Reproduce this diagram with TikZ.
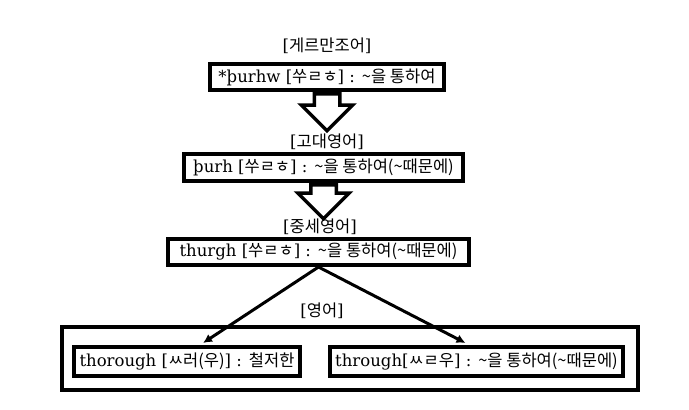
\documentclass[tikz,border=0pt]{standalone}
\usepackage{fontspec}
\setmainfont{DejaVu Serif}
\newfontfamily\krfont{Noto Sans CJK KR}
\newcommand\kr[1]{{\krfont #1}}
\usetikzlibrary{shapes.arrows,arrows.meta,backgrounds}
\begin{document}
\begin{tikzpicture}[x=1pt,y=-1pt,
  every node/.style={font=\fontsize{16.5}{18}\selectfont},
  box/.style={draw, line width=4pt, fill=white, inner sep=1pt},
  lbl/.style={inner sep=1pt},
  blockarrow/.style={single arrow, draw, fill=white, line width=3.5pt,
    inner xsep=0pt, inner ysep=11pt, single arrow head extend=13pt,
    minimum height=37pt, rotate=-90, anchor=tail},
  link/.style={line width=3pt, -{Latex[length=9pt,width=9pt]}}]
  \useasboundingbox (0,0) rectangle (689,410);
  % Germanic
  \node[lbl] (l1) at (327,46) {[\kr{게르만조어}]};
  \node[box, minimum width=234pt, minimum height=26pt] (g) at (327,77)
    {*þurhw [\kr{쑤ㄹㅎ}] : \kr{\textasciitilde 을 통하여}};
  % Old English
  \node[lbl] (l2) at (327,142) {[\kr{고대영어}]};
  \node[box, minimum width=279pt, minimum height=27pt] (o) at (323.5,167.5)
    {þurh [\kr{쑤ㄹㅎ}] : \kr{\textasciitilde 을 통하여(\textasciitilde 때문에)}};
  % Middle English
  \node[lbl] (l3) at (320,227) {[\kr{중세영어}]};
  \node[box, minimum width=301pt, minimum height=26pt] (m) at (318.5,252)
    {thurgh [\kr{쑤ㄹㅎ}] : \kr{\textasciitilde 을 통하여(\textasciitilde 때문에)}};
  \begin{scope}[on background layer]
    \node[blockarrow] (a1) at (g.south) {};
    \node[blockarrow, minimum height=34pt] (a2) at (o.south) {};
  \end{scope}
  % English
  \node[lbl] (l4) at (322,311) {[\kr{영어}]};
  \node[draw, line width=4pt, minimum width=576pt, minimum height=63pt] (en) at (350,358.5) {};
  \node[box, minimum width=226pt, minimum height=29pt] (e1) at (187,361.5)
    {thorough [\kr{ㅆ러(우)}] : \kr{철저한}};
  \node[box, minimum width=293pt, minimum height=29pt] (e2) at (476.5,361.5)
    {through[\kr{ㅆㄹ우}] : \kr{\textasciitilde 을 통하여(\textasciitilde 때문에)}};
  \draw[link] (m.south) -- ([xshift=16pt,yshift=2pt]e1.north);
  \draw[link] (m.south) -- ([xshift=-11pt,yshift=2pt]e2.north);
\end{tikzpicture}
\end{document}
